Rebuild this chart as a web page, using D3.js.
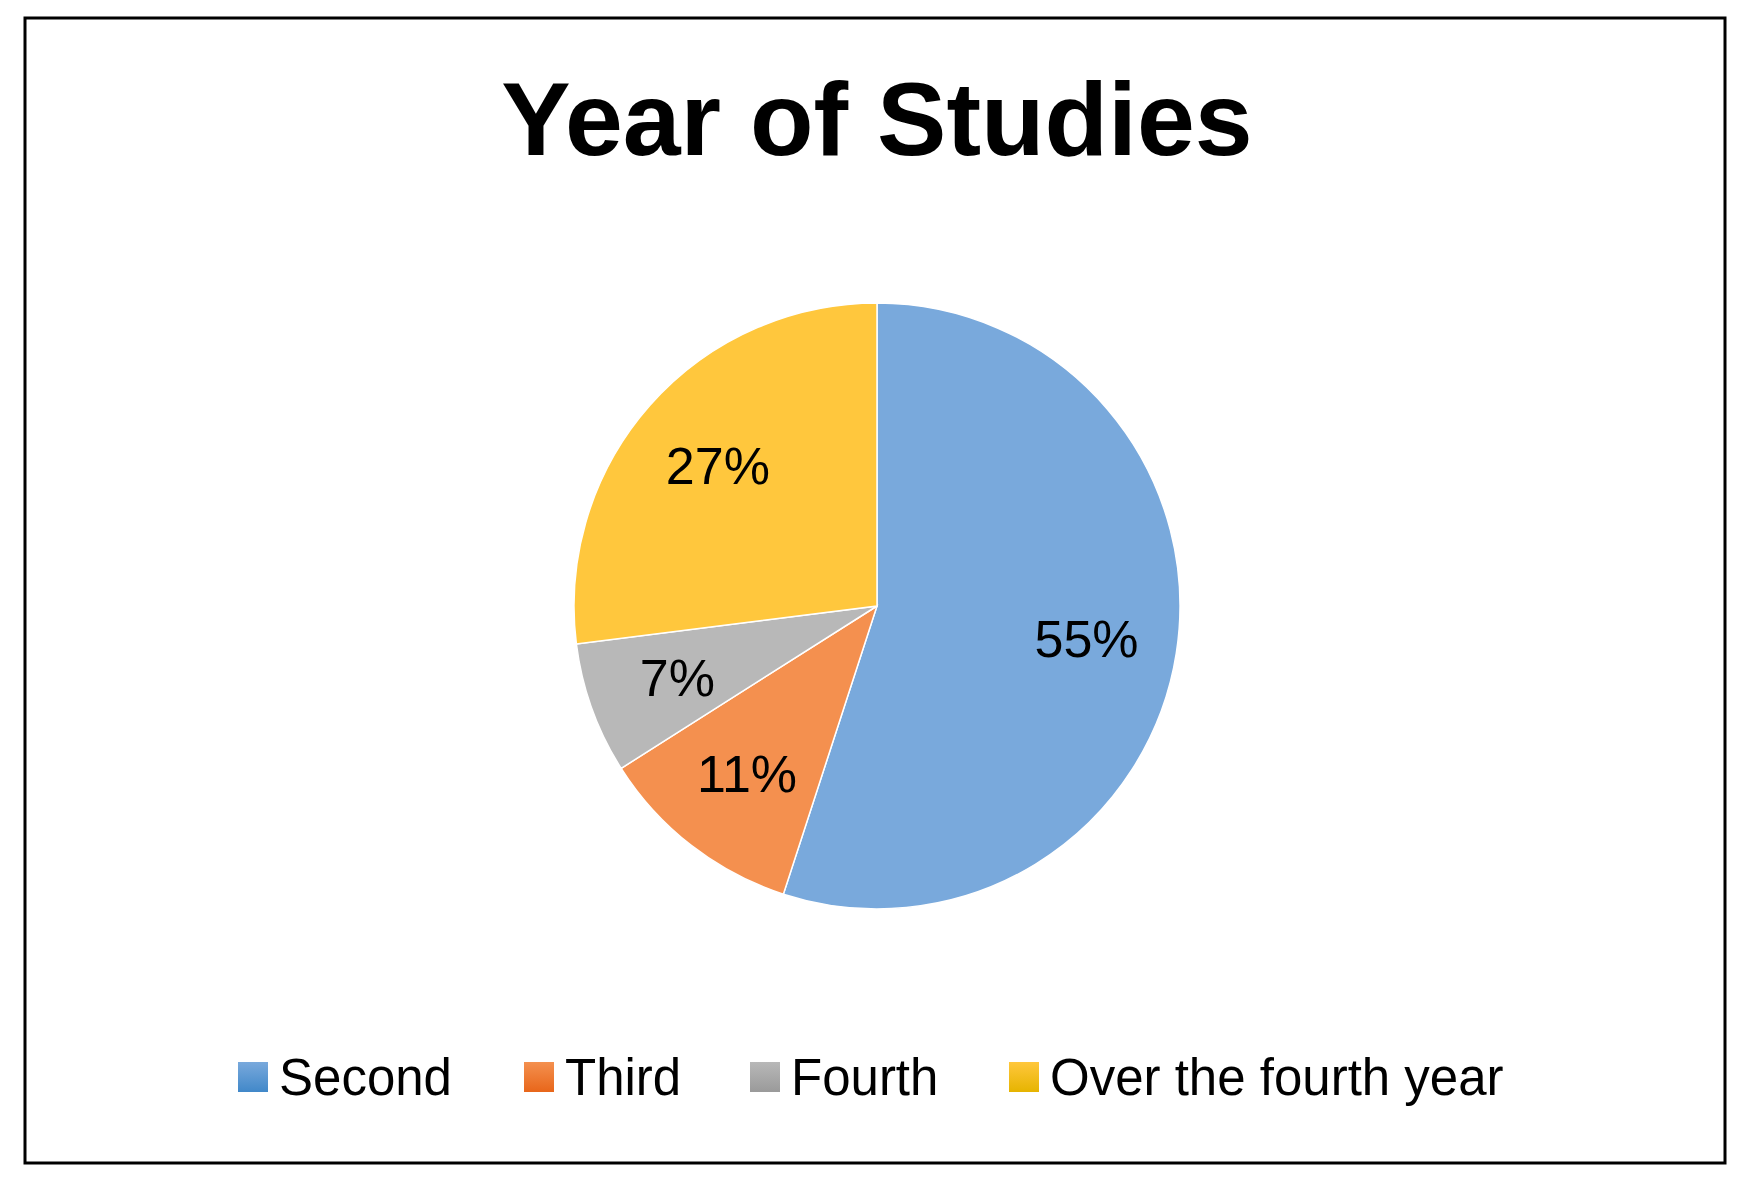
<!DOCTYPE html>
<html>
<head>
<meta charset="utf-8">
<script src="https://cdn.jsdelivr.net/npm/d3@7"></script>
<style>
  body { margin: 0; background: #fff; }
  text { font-family: "Liberation Sans", Arial, sans-serif; }
</style>
</head>
<body>
<svg id="chart" width="1738" height="1185"></svg>
<script>
const categories = ['Second', 'Third', 'Fourth', 'Over the fourth year'];
const values = [55, 11, 7, 27];
const colorsTop = ['#79a9dc', '#f4904f', '#b8b8b8', '#ffc73d'];
const colorsBottom = ['#4188c9', '#e8661a', '#9a9a9a', '#e6b400'];

const svg = d3.select('#chart');
const cx = 877, cy = 606, r = 303;

svg.append('rect')
    .attr('x', 25).attr('y', 18)
    .attr('width', 1700).attr('height', 1145)
    .attr('fill', '#fff').attr('stroke', '#000').attr('stroke-width', 3);

svg.append('text')
    .attr('x', 877).attr('y', 155)
    .attr('text-anchor', 'middle')
    .attr('font-size', 104).attr('font-weight', 'bold')
    .text('Year of Studies');

const defs = svg.append('defs');
categories.forEach((c, i) => {
    const g = defs.append('linearGradient')
        .attr('id', 'grad' + i)
        .attr('gradientUnits', 'userSpaceOnUse')
        .attr('x1', 0).attr('y1', cy - r).attr('x2', 0).attr('y2', cy + r);
    g.append('stop').attr('offset', '0%').attr('stop-color', colorsTop[i]);
    g.append('stop').attr('offset', '100%').attr('stop-color', colorsBottom[i]);
});

const pie = d3.pie().sort(null).value(d => d)(values);
const arc = d3.arc().innerRadius(0).outerRadius(r);
const labelArc = d3.arc().innerRadius(r * 0.7).outerRadius(r * 0.7);

const g = svg.append('g').attr('transform', `translate(${cx},${cy})`);
g.selectAll('path').data(pie).join('path')
    .attr('d', arc)
    .attr('fill', (d, i) => `url(#grad${i})`)
    .attr('stroke', '#fff').attr('stroke-width', 1.5);

g.selectAll('text').data(pie).join('text')
    .attr('transform', d => {
        const [x, y] = labelArc.centroid(d);
        return `translate(${x},${y})`;
    })
    .attr('text-anchor', 'middle')
    .attr('dy', '0.35em')
    .attr('font-size', 52)
    .text(d => d.data + '%');

const legendX = [238, 524, 750, 1009];
const lg = svg.append('g');
categories.forEach((c, i) => {
    lg.append('rect')
        .attr('x', legendX[i]).attr('y', 1062)
        .attr('width', 30).attr('height', 30)
        .attr('fill', `url(#lgrad${i})`);
    const lgd = defs.append('linearGradient')
        .attr('id', 'lgrad' + i).attr('x1', 0).attr('y1', 0).attr('x2', 0).attr('y2', 1);
    lgd.append('stop').attr('offset', '0%').attr('stop-color', colorsTop[i]);
    lgd.append('stop').attr('offset', '100%').attr('stop-color', colorsBottom[i]);
    lg.append('text')
        .attr('x', legendX[i] + 41).attr('y', 1095)
        .attr('font-size', 51)
        .text(c);
});
</script>
</body>
</html>
